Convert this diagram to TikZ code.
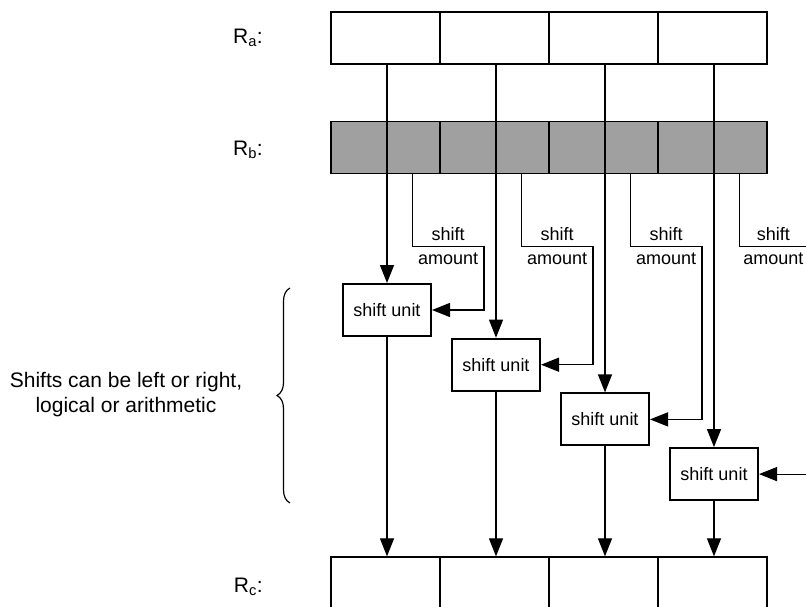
\documentclass[tikz,border=0pt]{standalone}
\usepackage{fontspec}
\setmainfont{Liberation Sans}
\usepackage{tikz}
\usetikzlibrary{arrows.meta}
\usetikzlibrary{decorations.pathreplacing}

\definecolor{bgray}{RGB}{160,160,160}

\tikzset{
  cell/.style={draw, line width=1.3pt, minimum width=109pt, minimum height=52pt, inner sep=0pt},
  bcell/.style={cell, fill=bgray},
  unit/.style={draw, line width=2pt, fill=white, minimum width=88pt, minimum height=52pt,
    inner sep=0pt, font=\fontsize{18}{21}\selectfont},
  wire/.style={line width=1.2pt},
  lbl/.style={font=\fontsize{21}{25}\selectfont}
}

\begin{document}
\begin{tikzpicture}[x=1pt, y=-1pt, >={Triangle[length=18pt,width=14pt]}]

  \useasboundingbox (0,0) rectangle (806,607);
  \clip (0,0) rectangle (806,607);

  % registers
  \foreach \i in {1,...,4} {
    \node[cell]  (ra\i) at (276.5+109*\i, 38) {};
    \node[bcell] (rb\i) at (276.5+109*\i, 147.5) {};
    \node[cell]  (rc\i) at (276.5+109*\i, 583) {};
  }

  \node[lbl, anchor=east, inner sep=0pt] (lra) at (263,38)  {R\textsubscript{a}:};
  \node[lbl, anchor=east, inner sep=0pt] (lrb) at (263,150) {R\textsubscript{b}:};
  \node[lbl, anchor=east, inner sep=0pt] (lrc) at (263,587) {R\textsubscript{c}:};

  % shift units
  \foreach \i in {1,...,4} {
    \node[unit] (su\i) at (278+109*\i, 255.3+54.7*\i) {shift unit};
  }

  % data in and out
  \foreach \i in {1,...,4} {
    \draw[wire,->] (ra\i.south -| su\i.north) -- (su\i.north);
    \draw[wire,->] (su\i.south) -- (su\i.south |- rc\i.north);
  }

  % shift amounts
  \foreach \i/\d in {1/52,2/52,3/52,4/48.5} {
    \draw[wire,->] ([xshift=82pt]rb\i.south west) -- ++(0,72)
      -| node[pos=0.25, above=2pt] {\fontsize{18}{21}\selectfont shift}
         node[pos=0.25, below=3pt] {\fontsize{18}{21}\selectfont amount}
      ([xshift=\d pt]su\i.east) -- (su\i.east);
  }

  \draw[line width=1.2pt, decorate, decoration={brace, amplitude=13pt}] (290,503) -- (290,288);
  \node[lbl, align=center] (note) at (126,395) {Shifts can be left or right,\\logical or arithmetic};

\end{tikzpicture}
\end{document}
